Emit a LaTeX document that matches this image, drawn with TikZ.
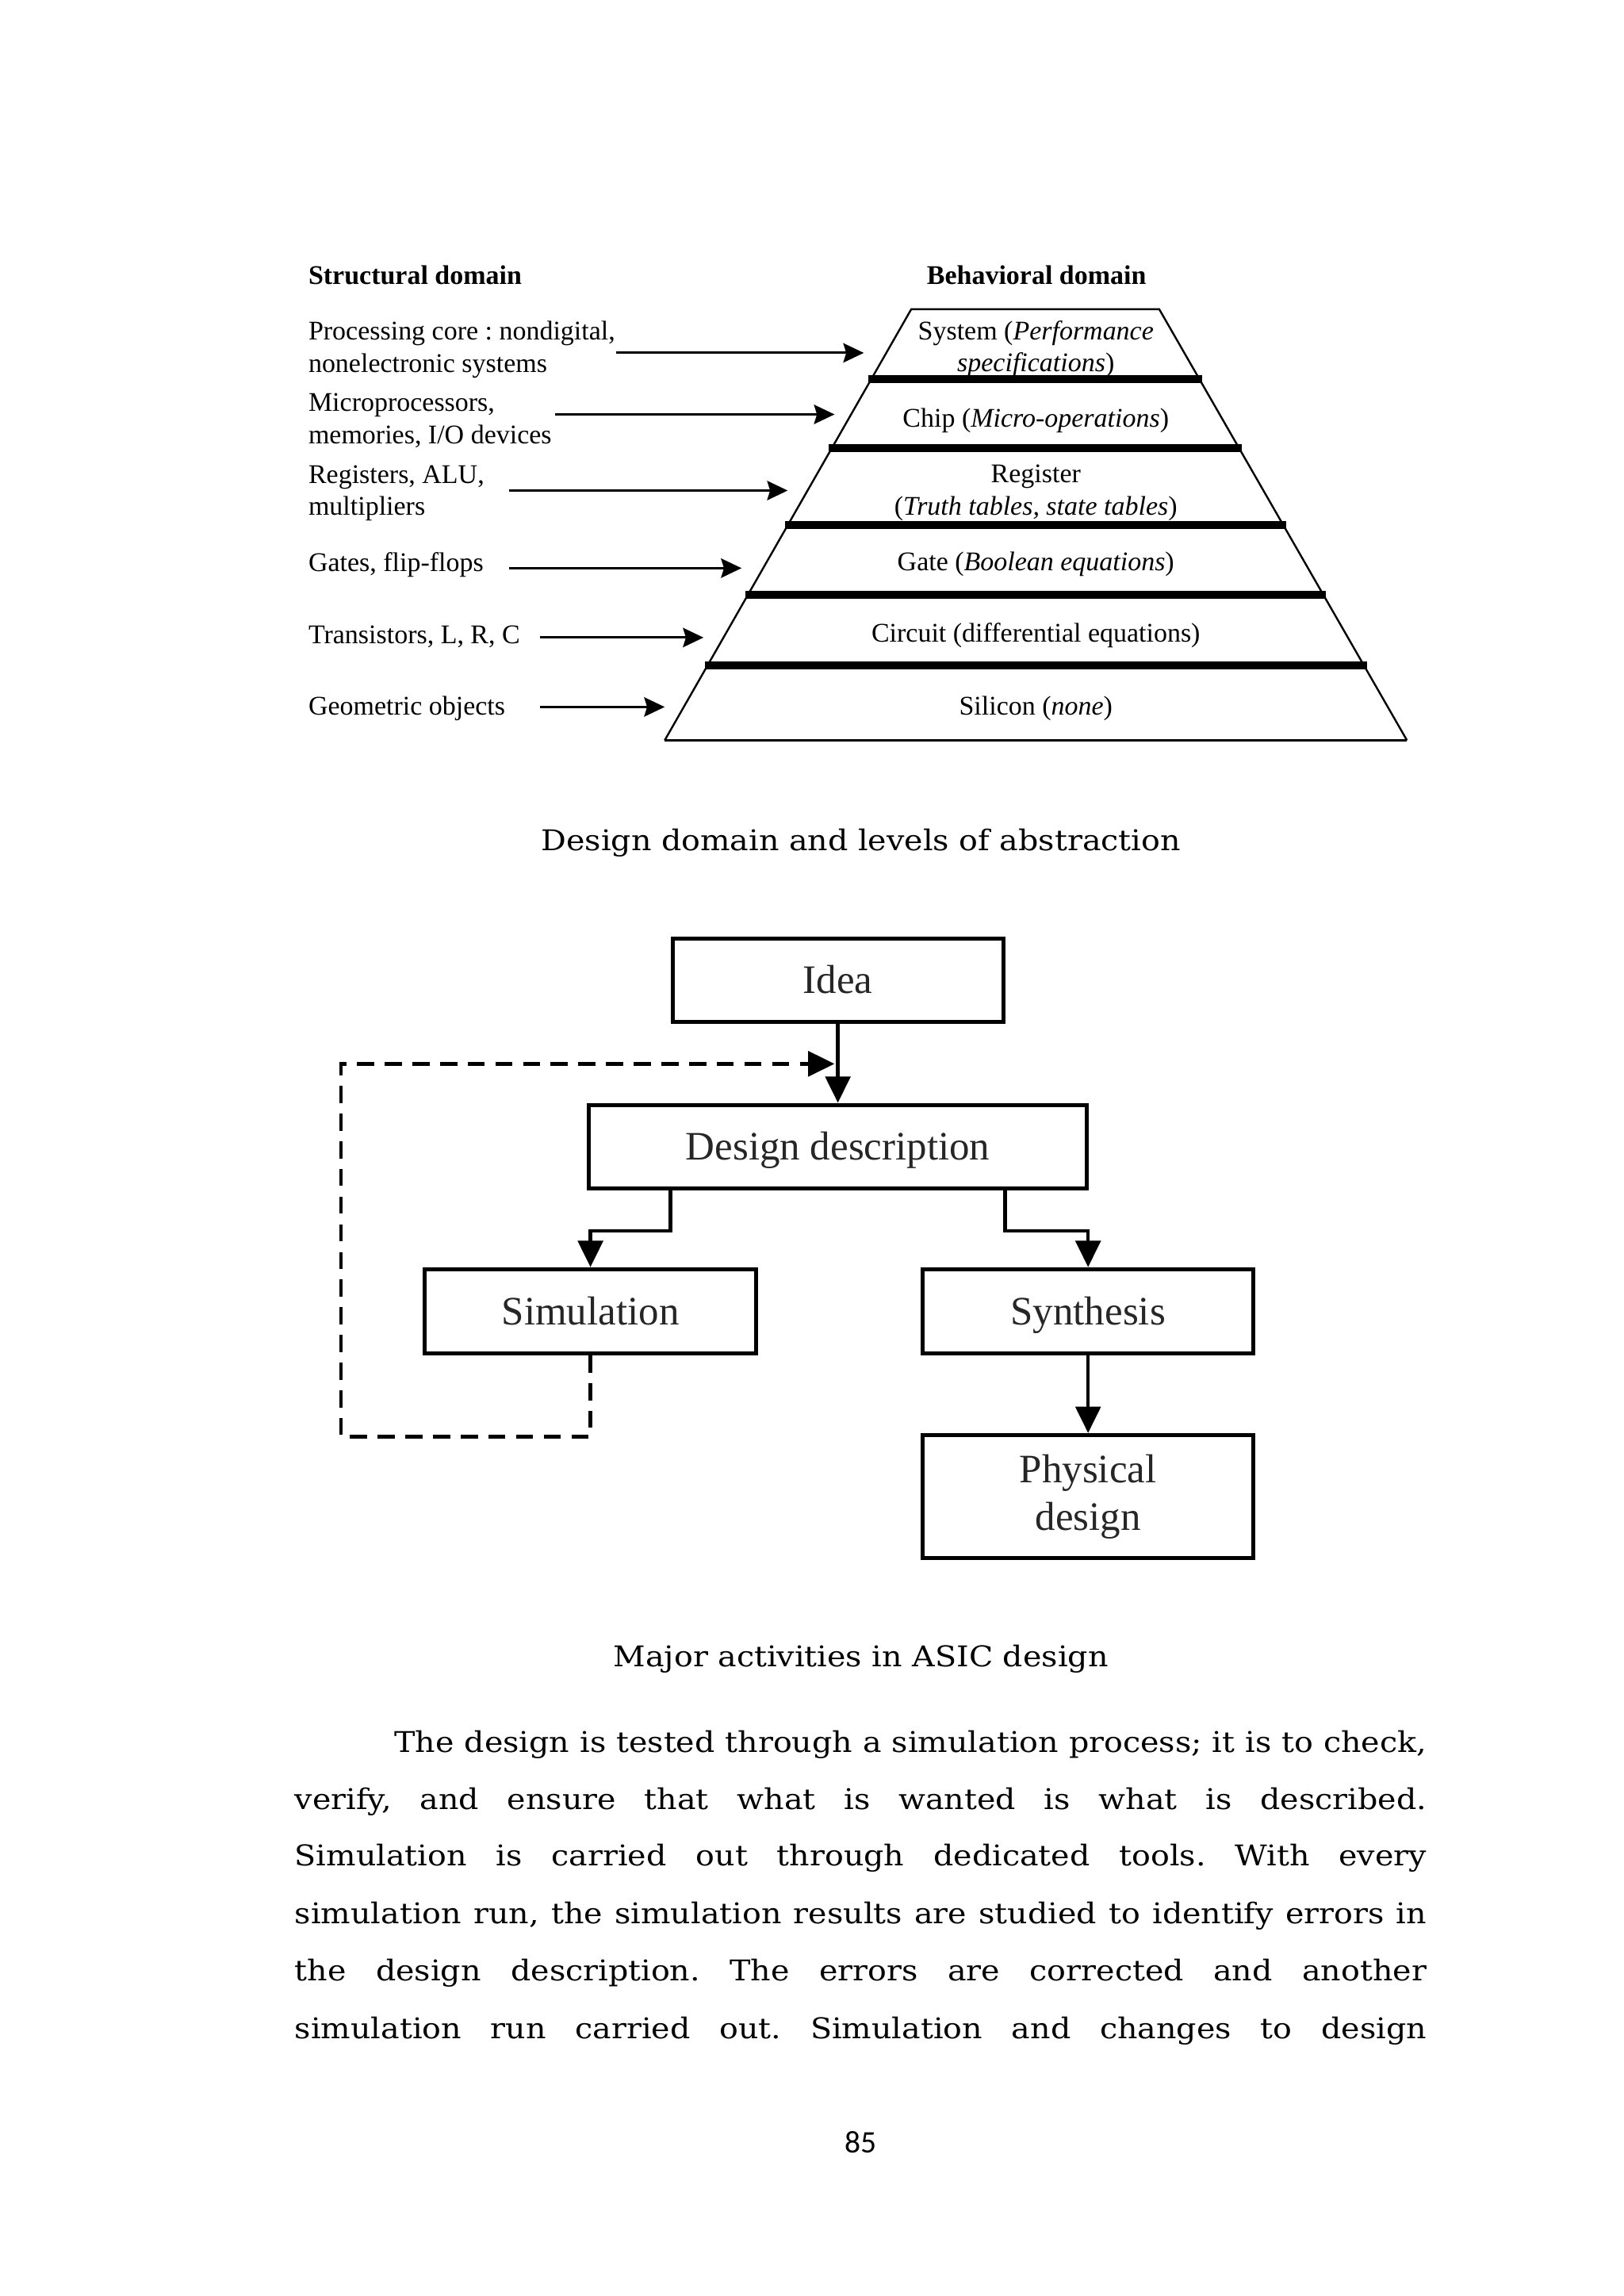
\documentclass[tikz,border=0pt]{standalone}
\usepackage{fontspec}
\setmainfont{DejaVu Serif}[FakeStretch=1.1]
\newfontfamily\diagf{Liberation Serif}
\newfontfamily\pagef{Carlito}
\usetikzlibrary{arrows.meta,calc}
\frenchspacing
\begin{document}
\begin{tikzpicture}[x=0.5pt,y=-0.5pt,
  lbl/.style={font=\diagf\fontsize{9.2pt}{11.3pt}\selectfont, anchor=base west, inner sep=0pt},
  lvl/.style={font=\diagf\fontsize{9.2pt}{11.3pt}\selectfont, anchor=base, inner sep=0pt},
  head/.style={font=\diagf\bfseries\fontsize{9.2pt}{11.3pt}\selectfont, inner sep=0pt},
  sarrow/.style={line width=0.8pt, -{Stealth[length=7pt,width=6.6pt,inset=1pt]}},
  edge/.style={line width=0.65pt},
  bar/.style={line width=2.75pt},
  box/.style={draw, line width=1.35pt, inner sep=0pt, minimum width=113pt, minimum height=28.5pt,
    font=\diagf\fontsize{13.8pt}{16.25pt}\selectfont, text=black!85, align=center},
  single/.style={text height=9.1pt, text depth=0pt},
  farrow/.style={line width=1.25pt, -{Triangle[length=9pt,width=8.5pt]}},
  darrow/.style={farrow, dash pattern=on 5.85pt off 3.6pt},
  captxt/.style={font=\fontsize{9.75pt}{12pt}\selectfont, anchor=base, inner sep=0pt},
  body/.style={font=\fontsize{9.75pt}{12pt}\selectfont, anchor=base west, inner sep=0pt}
]
\useasboundingbox (0,0) rectangle (1109,1568);

% ---------- headings ----------
\node[head, anchor=base west] (sd) at (210.3,194) {Structural domain};
\node[head, anchor=base] (bd) at (708,194) {Behavioral domain};

% ---------- structural labels ----------
\node[lbl] (s1a) at (210.3,231.9) {Processing core : nondigital,};
\node[lbl] (s1b) at (210.3,254.5) {nonelectronic systems};
\node[lbl] (s2a) at (210.3,280.7) {Microprocessors,};
\node[lbl] (s2b) at (210.3,302.9) {memories, I/O devices};
\node[lbl] (s3a) at (210.3,330.3) {Registers, ALU,};
\node[lbl] (s3b) at (210.3,352) {multipliers};
\node[lbl] (s4) at (210.3,390.4) {Gates, flip-flops};
\node[lbl] (s5) at (210.3,439.5) {Transistors, L, R, C};
\node[lbl] (s6) at (210.3,488.2) {Geometric objects};

% ---------- arrows ----------
\coordinate (a1s) at (421,241);   \coordinate (a1e) at (590,241);
\coordinate (a2s) at (379,283);   \coordinate (a2e) at (570,283);
\coordinate (a3s) at (347.5,335); \coordinate (a3e) at (538,335);
\coordinate (a4s) at (347.5,388); \coordinate (a4e) at (506.5,388);
\coordinate (a5s) at (368.8,435.4); \coordinate (a5e) at (480.5,435.4);
\coordinate (a6s) at (368.8,482.8); \coordinate (a6e) at (454,482.8);
\foreach \i in {1,...,6} { \draw[sarrow] (a\i s) -- (a\i e); }

% ---------- pyramid text ----------
\node[lvl] (b1a) at (707.5,231.9) {System (\textit{Performance}};
\node[lvl] (b1b) at (707.5,253.6) {\textit{specifications})};
\node[lvl] (b2) at (707.5,291.5) {Chip (\textit{Micro-operations})};
\node[lvl] (b3a) at (707.5,329.4) {Register};
\node[lvl] (b3b) at (707.5,352) {(\textit{Truth tables, state tables})};
\node[lvl] (b4) at (707.5,389.9) {Gate (\textit{Boolean equations})};
\node[lvl] (b5) at (707.5,438.6) {Circuit (differential equations)};
\node[lvl] (b6) at (707.5,488.2) {Silicon (\textit{none})};

% ---------- pyramid ----------
\coordinate (ptl) at (622.4,211.2);
\coordinate (ptr) at (791.8,211.2);
\coordinate (pbl) at (454,505.6);
\coordinate (pbr) at (961,505.6);
\draw[edge, line join=miter] (pbl) -- (ptl) -- (ptr) -- (pbr);
\draw[line width=0.9pt] (pbl) -- (pbr);
\draw[bar] (593.1,259) -- (821.3,259);
\draw[bar] (566.2,306) -- (848.3,306);
\draw[bar] (536.2,358.4) -- (878.4,358.4);
\draw[bar] (509,406) -- (905.8,406);
\draw[bar] (481.3,454.3) -- (933.6,454.3);

\node[captxt] (cap1) at (588,581) {Design domain and levels of abstraction};

% ---------- flowchart ----------
\node[box, single] (idea) at (572.3,669.5) {Idea};
\node[box, single, minimum width=170.25pt] (design) at (572.3,783) {Design description};
\node[box, single, minimum height=28.8pt] (sim) at (403.3,895.5) {Simulation};
\node[box, single, minimum height=28.8pt] (synth) at (743.2,895.5) {Synthesis};
\node[box, minimum height=42pt] (phys) at (743.2,1022) {Physical\\design};

\draw[farrow] (idea) -- (design);
\draw[farrow] (idea.west |- design.south) -- ++(0,27.8) -| (sim.north);
\draw[farrow] (idea.east |- design.south) -- ++(0,27.8) -| (synth.north);
\draw[farrow] (synth) -- (phys);
\coordinate (fbcorner) at (232.8,981);
\coordinate (fbtip) at (570,726.5);
\draw[darrow] (sim.south) |- (fbcorner) |- (fbtip);

\node[captxt] (cap2) at (588,1138) {Major activities in ASIC design};

% ---------- body text ----------
\node[body] (p1) at (269,1196.7) {\makebox[352.5pt][s]{The design is tested through a simulation process; it is to check,}};
\node[body] (p2) at (201,1235.5) {\makebox[386.5pt][s]{verify, and ensure that what is wanted is what is described.}};
\node[body] (p3) at (201,1274.4) {\makebox[386.5pt][s]{Simulation is carried out through dedicated tools. With every}};
\node[body] (p4) at (201,1313.7) {\makebox[386.5pt][s]{simulation run, the simulation results are studied to identify errors in}};
\node[body] (p5) at (201,1352.8) {\makebox[386.5pt][s]{the design description. The errors are corrected and another}};
\node[body] (p6) at (201,1392) {\makebox[386.5pt][s]{simulation run carried out. Simulation and changes to design}};

\node[font=\pagef\fontsize{10.7pt}{12pt}\selectfont, anchor=base, inner sep=0pt] (pg) at (588,1470) {85};
\end{tikzpicture}
\end{document}
